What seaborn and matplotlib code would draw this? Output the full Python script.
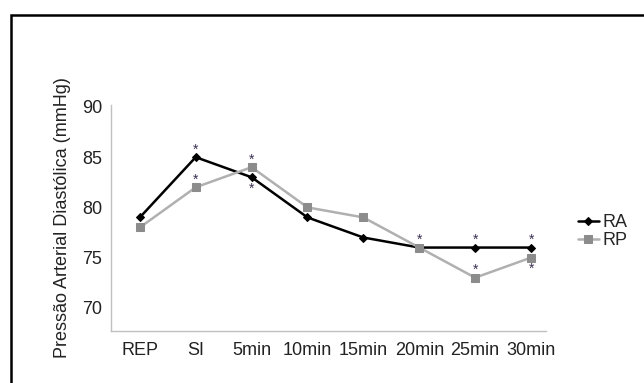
import matplotlib
matplotlib.use('Agg')
import matplotlib.pyplot as plt
import seaborn as sns
import pandas as pd
from matplotlib.patches import Rectangle

# dados
tempos = ['REP', 'SI', '5min', '10min', '15min', '20min', '25min', '30min']
ra = [79, 85, 83, 79, 77, 76, 76, 76]
rp = [78, 82, 84, 80, 79, 76, 73, 75]
# asteriscos: (indice do tempo, valor, acima=True / abaixo=False)
ast_ra = [(1, 85, True), (2, 83, False), (5, 76, True), (6, 76, True), (7, 76, True)]
ast_rp = [(1, 82, True), (2, 84, True), (6, 73, True), (7, 75, False)]

df = pd.DataFrame({'Tempo': list(range(len(tempos))) * 2,
                   'PAD': ra + rp,
                   'Grupo': ['RA'] * len(ra) + ['RP'] * len(rp)})

sns.set_style('white')
plt.rcParams['font.family'] = ['Liberation Sans', 'DejaVu Sans']

fig = plt.figure(figsize=(6.44, 3.83), dpi=100)
ax = fig.add_axes([0.172, 0.136, 0.676, 0.590])

sns.lineplot(data=df[df['Grupo'] == 'RA'], x='Tempo', y='PAD', ax=ax,
             color='black', linewidth=1.8, marker='D', markersize=4,
             markeredgecolor='black', label='RA')
sns.lineplot(data=df[df['Grupo'] == 'RP'], x='Tempo', y='PAD', ax=ax,
             color='#b0b0b0', linewidth=1.8, marker='s', markersize=6,
             markerfacecolor='#8c8c8c', markeredgecolor='#8c8c8c', label='RP')

for i, v, acima in ast_ra + ast_rp:
    ax.text(i, v + (0.75 if acima else -1.1), '*', ha='center', va='center',
            fontsize=10, color='#3a3050')

ax.set_xlim(-0.52, 7.27)
ax.set_ylim(67.7, 90.2)
ax.set_xticks(range(len(tempos)))
ax.set_xticklabels(tempos)
ax.set_yticks([70, 75, 80, 85, 90])
ax.tick_params(axis='both', length=0, labelsize=13, colors='#222222')
ax.tick_params(axis='x', pad=8)
ax.tick_params(axis='y', pad=6)
ax.set_xlabel('')
ax.set_ylabel('Pressão Arterial Diastólica (mmHg)', fontsize=13, color='#222222', labelpad=8)
for s in ['top', 'right']:
    ax.spines[s].set_visible(False)
for s in ['left', 'bottom']:
    ax.spines[s].set_color('#c0c0c0')
    ax.spines[s].set_linewidth(1)

leg = ax.legend(loc='center left', bbox_to_anchor=(1.035, 0.44), frameon=False,
                handlelength=1.2, handletextpad=0.2, labelspacing=0.05, fontsize=13)

fig.patches.append(Rectangle((11 / 644, -0.1), 1.2, 1 - 15 / 383 + 0.1,
                             transform=fig.transFigure, fill=False,
                             edgecolor='black', linewidth=1.8))

plt.savefig('out.png', dpi=100)
